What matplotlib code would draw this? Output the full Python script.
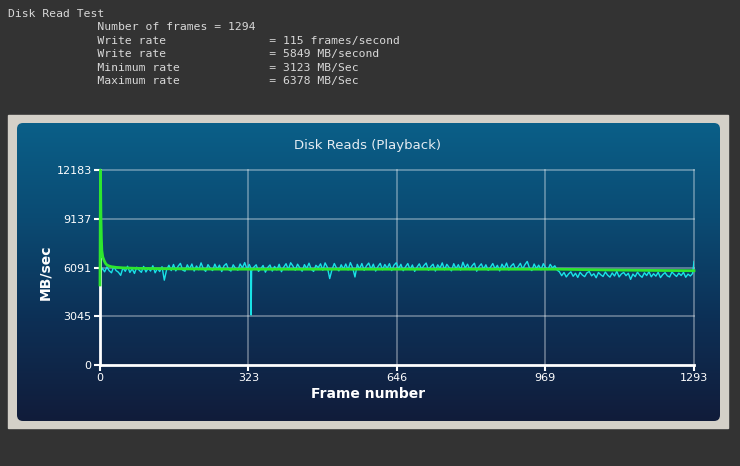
import numpy as np
import matplotlib
matplotlib.use('Agg')
import matplotlib.pyplot as plt
from matplotlib.patches import Rectangle, FancyBboxPatch
from matplotlib.colors import LinearSegmentedColormap

# read rate (MB/sec) sampled every 5 frames
rate_a = [5700, 6050, 5820, 6120, 5890, 5760, 6150, 5900, 5800, 5600,
          6080, 5850, 6170, 5780, 6010, 5720, 6110, 5930, 5790, 6160,
          5810, 6060, 5870, 6200, 5760, 6030, 5840, 6140, 5300, 5960,
          6230, 5900, 6280, 5880, 6170, 6350, 5930, 5860, 6260, 6000,
          6310, 5870, 6190, 5950, 6380, 6010, 5850, 6270, 6050, 5900,
          6300, 5980, 6240, 5840, 6200, 6330, 5960, 5870, 6260, 6040,
          5920, 6310, 6060, 6400, 5980]
rate_b = [6280, 5880, 6120, 6260, 5850, 6010, 6220, 5800, 6090, 6250,
          5870, 6160, 5940, 6290, 5830, 6120, 6330, 5960, 6390, 6180,
          5920, 6300, 6070, 5860, 6270, 6030, 6360, 5970, 5850, 6230,
          6080, 6320, 5920, 6380, 6100, 5400, 5960, 6340, 6050, 5880,
          6260, 5990, 6310, 5940, 6400, 6070, 5500, 6290, 6000, 6340,
          5910, 6200, 6370, 5980, 6300, 5870, 6150, 6350, 5950, 6280,
          6040, 6330, 5900, 6240, 6390, 6010]
rate_c = [6290, 5890, 6130, 6340, 5960, 6250, 5850, 6110, 6320, 5980,
          6210, 6370, 5920, 6150, 6300, 5870, 6260, 6040, 6380, 5950,
          6290, 6080, 5880, 6330, 6010, 6270, 5930, 6420, 6060, 6300,
          5960, 6200, 6360, 5860, 6150, 6320, 5990, 6260, 5910, 6110,
          6340, 6000, 6230, 5880, 6300, 6060, 6370, 5940, 6190, 6330,
          5970, 6140, 6350, 5990, 6270, 6470, 6050, 5900, 6310, 6030,
          6240, 5950, 6330, 6090, 5960, 6290, 6060, 6200, 5930, 5820]
rate_d = [5580, 5780, 5500, 5690, 5820, 5540, 5730, 5470, 5790, 5620,
          5520, 5760, 5840, 5570, 5700, 5450, 5780, 5640, 5530, 5810,
          5610, 5490, 5750, 5560, 5850, 5500, 5690, 5780, 5580, 5730,
          5350, 5680, 5520, 5800, 5600, 5480, 5760, 5590, 5830, 5510,
          5700, 5550, 5790, 5460, 5650, 5770, 5570, 5500, 5810, 5660,
          5530, 5740, 5590, 5790, 5480, 5680, 5560, 5720]
# single-frame outliers
extra_frames = [328, 329, 1293]
extra_rates = [6080, 3123, 6460]

# running average line
avg_frames = [0, 1, 2, 3, 4, 6, 9, 12, 15, 20, 25, 35, 50, 80, 150, 250, 350,
              450, 550, 650, 750, 850, 950, 1000, 1050, 1100, 1150, 1200, 1250, 1293]
avg_rates = [5000, 12183, 9300, 7900, 7150, 6750, 6520, 6350, 6250, 6180, 6140,
             6100, 6070, 6040, 6010, 5990, 5985, 5985, 5985, 5985, 5985, 5985,
             5985, 5985, 5960, 5940, 5925, 5910, 5900, 5890]

x_ticks = [0, 323, 646, 969, 1293]
y_ticks = [0, 3045, 6091, 9137, 12183]

info_lines = [
    'Disk Read Test',
    '             Number of frames = 1294',
    '             Write rate               = 115 frames/second',
    '             Write rate               = 5849 MB/second',
    '             Minimum rate             = 3123 MB/Sec',
    '             Maximum rate             = 6378 MB/Sec',
]

rates = rate_a + rate_b + rate_c + rate_d
frames = list(np.arange(0, 5 * len(rates), 5)) + extra_frames
rates = rates + extra_rates
order = np.argsort(frames, kind='stable')
frames = np.array(frames)[order]
rates = np.array(rates)[order]

W, H = 740, 466
fig = plt.figure(figsize=(W / 100, H / 100), dpi=100)
fig.patch.set_facecolor('#333333')

# background panels, pixel coordinates
bg = fig.add_axes([0, 0, 1, 1])
bg.axis('off')
bg.add_patch(Rectangle((8, 115), 720, 313, color='#d4d0c8', zorder=0))
r = 6
panel = FancyBboxPatch((17 + r, 123 + r), 703 - 2 * r, 298 - 2 * r,
                       boxstyle=f'round,pad={r}', facecolor='none',
                       edgecolor='none')
bg.add_patch(panel)
cmap = LinearSegmentedColormap.from_list(
    'panel', ['#0a5f88', '#0b4a72', '#0d2f55', '#111c3a'])
grad = np.linspace(0, 1, 256).reshape(-1, 1)
im = bg.imshow(grad, cmap=cmap, aspect='auto', extent=(17, 720, 421, 123),
               origin='upper', zorder=1)
im.set_clip_path(panel)
bg.set_xlim(0, W)
bg.set_ylim(H, 0)

for i, line in enumerate(info_lines):
    fig.text(8 / W, 1 - (14 + 13.4 * i) / H, line, family='DejaVu Sans Mono',
             fontsize=8.2, color='#d8d8d8', va='center', ha='left')

fig.text(368 / W, 1 - 145 / H, 'Disk Reads (Playback)', fontsize=9.5,
         color='#e4ecf2', ha='center', va='center')
fig.text(368 / W, 1 - 394 / H, 'Frame number', fontsize=10, weight='bold',
         color='white', ha='center', va='center')
fig.text(45 / W, 1 - 272 / H, 'MB/sec', fontsize=10, weight='bold',
         color='white', ha='center', va='center', rotation=90)

ax = fig.add_axes([100 / W, (H - 365) / H, 594 / W, 195 / H])
ax.set_facecolor('none')
ax.set_xlim(0, 1293)
ax.set_ylim(0, 12183)

grid_color = (1, 1, 1, 0.35)
for t in x_ticks[1:]:
    ax.axvline(t, color=grid_color, lw=1.3, clip_on=False, zorder=1)
for t in y_ticks[1:]:
    ax.axhline(t, color=grid_color, lw=1.3, clip_on=False, zorder=1)

ax.plot(frames, rates, color='#19e3e6', lw=1.0, zorder=3)
ax.plot(avg_frames, avg_rates, color='#2ee62e', lw=2.0, zorder=6,
        clip_on=False)

ax.set_xticks(x_ticks)
ax.set_yticks(y_ticks)
ax.tick_params(colors='white', labelsize=8, width=1.5, length=4, pad=2)
for side in ['top', 'right']:
    ax.spines[side].set_visible(False)
for side in ['left', 'bottom']:
    ax.spines[side].set_color('white')
    ax.spines[side].set_linewidth(2)
    ax.spines[side].set_zorder(5)

plt.savefig('out.png', dpi=100, facecolor=fig.get_facecolor())
